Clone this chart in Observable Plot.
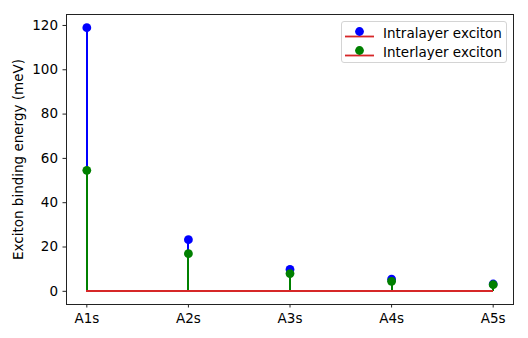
<!DOCTYPE html>
<html>
<head>
<meta charset="utf-8">
<script src="https://cdn.jsdelivr.net/npm/d3@7"></script>
<script src="https://cdn.jsdelivr.net/npm/@observablehq/plot@0.6"></script>
<style>
  html, body { margin: 0; padding: 0; background: #fff; }
  #wrap { position: relative; width: 528px; height: 338px; font-family: "DejaVu Sans", sans-serif; }
  #legend { position: absolute; left: 341px; top: 21px; width: 166px; height: 42px;
    border: 1px solid #d4d4d4; border-radius: 3px; background: rgba(255,255,255,0.8);
    box-sizing: border-box; font-size: 13.5px; color: #000; }
  .row { position: absolute; left: 0; height: 20px; display: flex; align-items: center; }
  .row svg { margin-left: 3px; }
  .row span { margin-left: 9px; white-space: nowrap; }
</style>
</head>
<body>
<div id="wrap"></div>
<script>
const categories = ["A1s", "A2s", "A3s", "A4s", "A5s"];
const intralayer = [119, 23.3, 9.9, 5.5, 3.3];
const interlayer = [54.6, 17.0, 8.0, 4.5, 3.0];
const yTicks = [0, 20, 40, 60, 80, 100, 120];
const seriesNames = ["Intralayer exciton", "Interlayer exciton"];
const seriesColors = ["#0000ff", "#008000"];
const baseColor = "#d62728";

const rowsIntra = categories.map((c, i) => ({cat: c, v: intralayer[i]}));
const rowsInter = categories.map((c, i) => ({cat: c, v: interlayer[i]}));
const baseRow = [{x1: categories[0], x2: categories[categories.length - 1], y: 0}];

const chart = Plot.plot({
  width: 528,
  height: 338,
  marginLeft: 66,
  marginRight: 15,
  marginTop: 14,
  marginBottom: 34,
  style: {fontFamily: "DejaVu Sans, sans-serif", fontSize: "13.5px", color: "#000", background: "#fff"},
  x: {type: "point", domain: categories, padding: 0.2, round: false},
  y: {domain: [-5.95, 124.95]},
  marks: [
    Plot.ruleX(rowsIntra, {x: "cat", y1: 0, y2: "v", stroke: seriesColors[0], strokeWidth: 2, shapeRendering: "crispEdges"}),
    Plot.dot(rowsIntra, {x: "cat", y: "v", r: 4.4, fill: seriesColors[0], stroke: null}),
    Plot.ruleY(baseRow, {x1: "x1", x2: "x2", y: "y", stroke: baseColor, strokeWidth: 2, shapeRendering: "crispEdges"}),
    Plot.ruleX(rowsInter, {x: "cat", y1: 0, y2: "v", stroke: seriesColors[1], strokeWidth: 2, shapeRendering: "crispEdges"}),
    Plot.dot(rowsInter, {x: "cat", y: "v", r: 4.4, fill: seriesColors[1], stroke: null}),
    Plot.ruleY(baseRow, {x1: "x1", x2: "x2", y: "y", stroke: baseColor, strokeWidth: 2, shapeRendering: "crispEdges"}),
    Plot.frame({stroke: "#222", strokeWidth: 1}),
    Plot.axisX({ticks: categories, tickSize: 3.5, tickPadding: 5, label: null, stroke: "#222"}),
    Plot.axisY({ticks: yTicks, tickSize: 3.5, tickPadding: 5, label: "Exciton binding energy (meV)",
      labelAnchor: "center", labelArrow: "none", labelOffset: 53, stroke: "#222"})
  ]
});
const wrap = document.getElementById("wrap");
wrap.appendChild(chart);

const legend = document.createElement("div");
legend.id = "legend";
seriesNames.forEach((name, i) => {
  const row = document.createElement("div");
  row.className = "row";
  row.style.top = (1 + i * 19) + "px";
  row.innerHTML = `<svg width="29" height="20"><line x1="0" x2="29" y1="13.5" y2="13.5" stroke="${baseColor}" stroke-width="1.8"/><circle cx="14.5" cy="8.5" r="4.4" fill="${seriesColors[i]}"/></svg><span>${name}</span>`;
  legend.appendChild(row);
});
wrap.appendChild(legend);
</script>
</body>
</html>
